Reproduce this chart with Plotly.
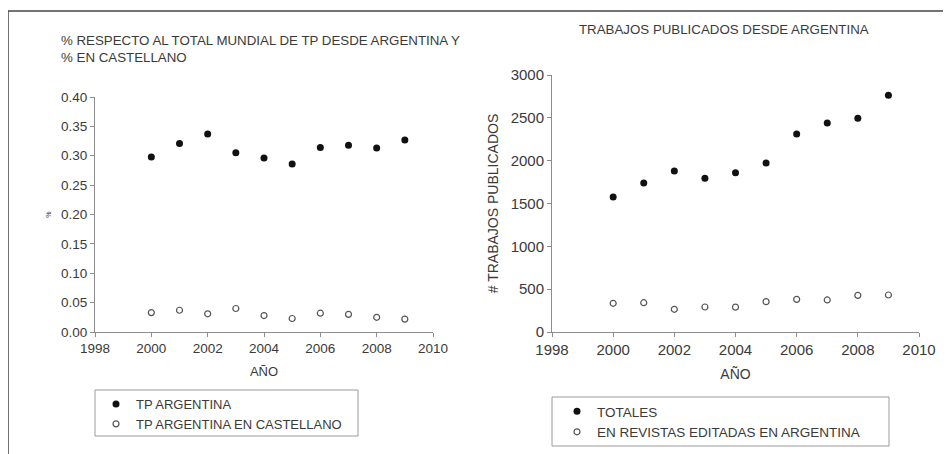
import plotly.graph_objects as go

years = [2000, 2001, 2002, 2003, 2004, 2005, 2006, 2007, 2008, 2009]
pct_tp_argentina = [0.298, 0.321, 0.337, 0.305, 0.296, 0.286, 0.314, 0.318, 0.313, 0.327]
pct_tp_castellano = [0.033, 0.037, 0.031, 0.040, 0.028, 0.023, 0.032, 0.030, 0.025, 0.022]
trabajos_totales = [1575, 1740, 1878, 1795, 1860, 1973, 2312, 2440, 2495, 2765]
trabajos_revistas_arg = [335, 342, 265, 292, 290, 354, 381, 374, 428, 432]

# The page body has an 8px default margin, so the figure is offset by 8px.
OFF = 8
W, H = 951 - OFF, 454 - OFF
FONT = "Liberation Sans, Arial, sans-serif"
TXT = "#3a3a3a"
AX = "#8c8c8c"

def px(x):
    return (x - OFF) / W

def py(y):
    return 1 - (y - OFF) / H

fig = go.Figure()

filled = dict(symbol="circle", size=7, color="#111111", line=dict(width=0))
hollow = dict(symbol="circle-open", size=6, color="#555555", line=dict(width=1.2))

fig.add_trace(go.Scatter(x=years, y=pct_tp_argentina, mode="markers", name="TP ARGENTINA",
                         marker=filled, xaxis="x", yaxis="y", legend="legend"))
fig.add_trace(go.Scatter(x=years, y=pct_tp_castellano, mode="markers", name="TP ARGENTINA EN CASTELLANO",
                         marker=hollow, xaxis="x", yaxis="y", legend="legend"))
fig.add_trace(go.Scatter(x=years, y=trabajos_totales, mode="markers", name="TOTALES",
                         marker=filled, xaxis="x2", yaxis="y2", legend="legend2"))
fig.add_trace(go.Scatter(x=years, y=trabajos_revistas_arg, mode="markers", name="EN REVISTAS EDITADAS EN ARGENTINA",
                         marker=hollow, xaxis="x2", yaxis="y2", legend="legend2"))

def axis(size, **kw):
    d = dict(showgrid=False, zeroline=False, showline=True, linecolor=AX, linewidth=1,
             ticks="outside", ticklen=4, tickcolor=AX, tickwidth=1, automargin=False,
             tickfont=dict(family=FONT, color=TXT, size=size))
    d.update(kw)
    return d

fig.update_layout(
    width=W, height=H,
    margin=dict(l=0, r=0, t=0, b=0, autoexpand=False),
    paper_bgcolor="white", plot_bgcolor="white",
    font=dict(family=FONT, color=TXT),
    showlegend=True,
    xaxis=axis(13.5, domain=[px(95), px(433)], range=[1998, 2010], dtick=2, anchor="y",
               title=dict(text="AÑO", font=dict(size=13, family=FONT, color=TXT), standoff=11)),
    yaxis=axis(13.5, domain=[py(332), py(97)], range=[0, 0.40], dtick=0.05, tickformat=".2f", anchor="x",
               title=dict(text="%", font=dict(size=7, family=FONT, color=TXT), standoff=8)),
    xaxis2=axis(15, domain=[px(552), px(919)], range=[1998, 2010], dtick=2, anchor="y2",
                title=dict(text="AÑO", font=dict(size=14, family=FONT, color=TXT), standoff=12)),
    yaxis2=axis(15, domain=[py(332), py(75)], range=[0, 3000], dtick=500, anchor="x2",
                title=dict(text="# TRABAJOS PUBLICADOS", font=dict(size=14, family=FONT, color=TXT), standoff=8)),
    legend=dict(x=px(96), y=py(389), xanchor="left", yanchor="top", bgcolor="rgba(0,0,0,0)",
                borderwidth=0, font=dict(size=13, family=FONT, color=TXT), tracegroupgap=0,
                itemsizing="trace"),
    legend2=dict(x=px(557), y=py(396), xanchor="left", yanchor="top", bgcolor="rgba(0,0,0,0)",
                 borderwidth=0, font=dict(size=13.5, family=FONT, color=TXT), tracegroupgap=0,
                 itemsizing="trace"),
    shapes=[
        dict(type="line", xref="paper", yref="paper", x0=px(8), x1=1, y0=py(11), y1=py(11),
             line=dict(color="#444444", width=1.5)),
        dict(type="line", xref="paper", yref="paper", x0=px(8), x1=px(8), y0=py(11), y1=0,
             line=dict(color="#444444", width=1.5)),
        dict(type="rect", xref="paper", yref="paper", x0=px(95), x1=px(358), y0=py(436), y1=py(390),
             line=dict(color="#9a9a9a", width=1)),
        dict(type="rect", xref="paper", yref="paper", x0=px(552), x1=px(889), y0=py(446), y1=py(397),
             line=dict(color="#9a9a9a", width=1)),
    ],
    annotations=[
        dict(text="% RESPECTO AL TOTAL MUNDIAL DE TP DESDE ARGENTINA Y<br>% EN CASTELLANO",
             xref="paper", yref="paper", x=px(59), y=py(31), xanchor="left", yanchor="top",
             align="left", showarrow=False, font=dict(size=13.3, family=FONT, color=TXT)),
        dict(text="TRABAJOS PUBLICADOS DESDE ARGENTINA",
             xref="paper", yref="paper", x=px(724), y=py(29), xanchor="center", yanchor="middle",
             showarrow=False, font=dict(size=13.3, family=FONT, color=TXT)),
    ],
)

fig.write_html("out.html")
